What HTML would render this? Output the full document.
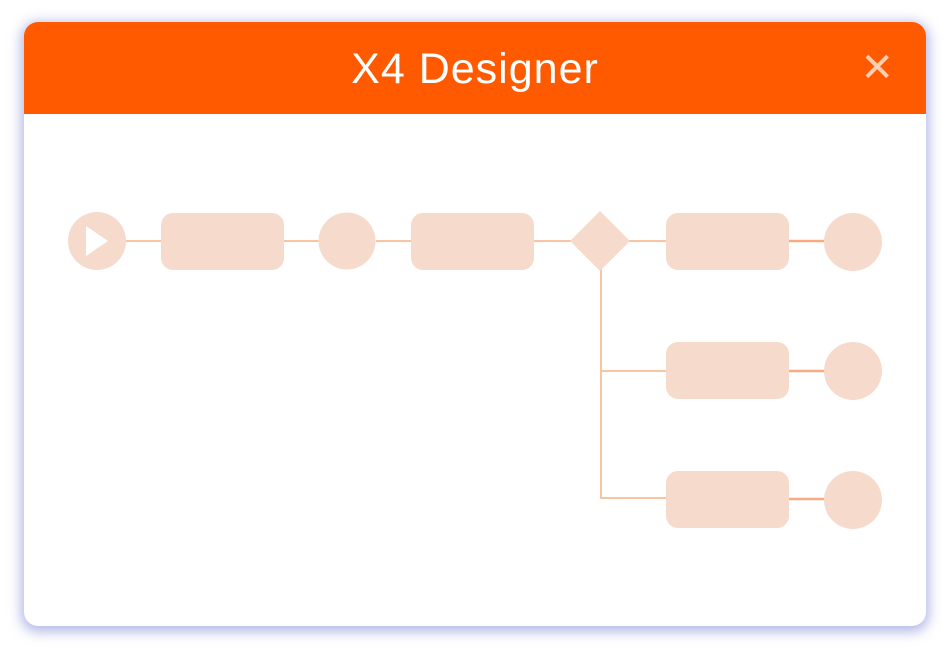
<!DOCTYPE html>
<html><head><style>
body{margin:0;width:951px;height:652px;background:#fff;overflow:hidden;font-family:"Liberation Sans",sans-serif;}
.card{position:absolute;left:24px;top:22px;width:902px;height:604px;border-radius:14px;background:#fff;box-shadow:0 3px 12px 3px rgba(130,140,215,0.6);overflow:hidden;}
.hdr{position:absolute;left:0;top:0;width:100%;height:92px;background:#ff5a00;color:#fff;text-align:center;font-size:43px;letter-spacing:1px;line-height:94px;}
.x{position:absolute;right:32px;top:0;font-size:40px;letter-spacing:0;line-height:92px;color:#fdd0b8;}
</style></head><body>
<div class="card"><div class="hdr">X4 Designer<span class="x">✕</span></div></div>
<svg width="951" height="652" style="position:absolute;left:0;top:0">
<g stroke="#f9c3a4" stroke-width="2" fill="none">
<line x1="126" y1="241" x2="161" y2="241"/>
<line x1="284" y1="241" x2="320" y2="241"/>
<line x1="376" y1="241" x2="411" y2="241"/>
<line x1="534" y1="241" x2="572" y2="241"/>
<line x1="628" y1="241" x2="666" y2="241"/>
<polyline points="601,268 601,498 666,498"/>
<line x1="601" y1="371" x2="666" y2="371"/>
</g>
<g stroke="#f8ab82" stroke-width="2.5">
<line x1="789" y1="241" x2="826" y2="241"/>
<line x1="789" y1="371" x2="826" y2="371"/>
<line x1="789" y1="499" x2="826" y2="499"/>
</g>
<g fill="#f6dbcd">
<circle cx="97" cy="241" r="29"/>
<rect x="161" y="213" width="123" height="57" rx="12"/>
<circle cx="347" cy="241" r="28.5"/>
<rect x="411" y="213" width="123" height="57" rx="12"/>
<polygon points="600,211 630,241 600,271 570,241"/>
<rect x="666" y="213" width="123" height="57" rx="12"/>
<circle cx="853" cy="242" r="29"/>
<rect x="666" y="342" width="123" height="57" rx="12"/>
<circle cx="853" cy="371" r="29"/>
<rect x="666" y="471" width="123" height="57" rx="12"/>
<circle cx="853" cy="500" r="29"/>
</g>
<polygon points="86,226 86,256 108,241" fill="#fff"/>
</svg>
</body></html>
